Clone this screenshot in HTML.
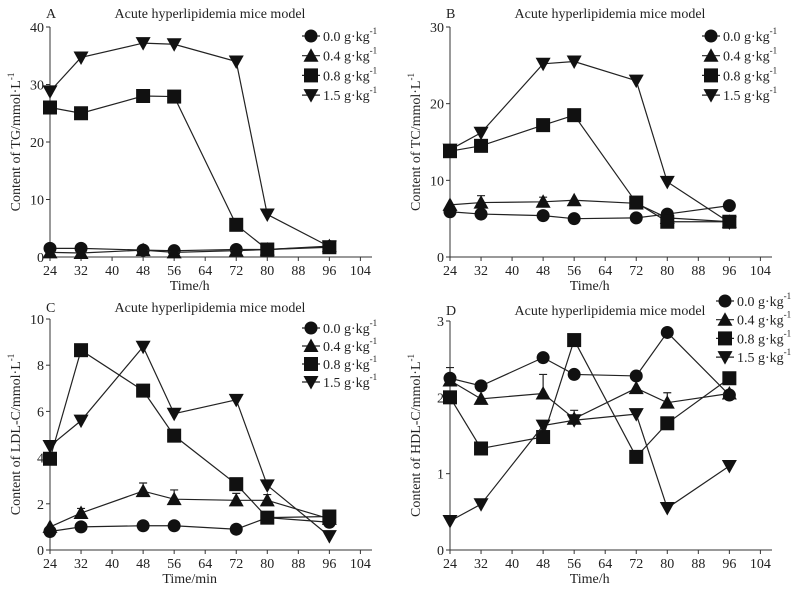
<!DOCTYPE html>
<html><head><meta charset="utf-8"><style>
body{margin:0;background:#fff}
svg{display:block;font-family:"Liberation Serif",serif;}
</style></head><body>
<svg id="c" width="805" height="592" viewBox="0 0 805 592" xmlns="http://www.w3.org/2000/svg"></svg>
<script>
const times=[24,32,48,56,72,80,96];
const xTicks=[24,32,40,48,56,64,72,80,88,96,104];
const seriesLabels=["0.0","0.4","0.8","1.5"];
const markers=["circle","triUp","square","triDown"];
// Panel A TG
const tgS0=[1.5,1.5,1.2,1.1,1.3,1.3,1.8];
const tgS1=[0.8,0.7,1.2,0.8,1.1,1.3,1.9];
const tgS2=[26,25,28,27.9,5.6,1.3,1.7];
const tgS3=[28.8,34.7,37.2,37.0,34.0,7.4,1.8];
const tgTicks=[0,10,20,30,40];
// Panel B TC
const tcS0=[5.9,5.6,5.4,5.0,5.1,5.6,6.7];
const tcS1=[6.8,7.1,7.2,7.4,7.0,5.1,4.6];
const tcS2=[13.8,14.5,17.2,18.5,7.1,4.6,4.6];
const tcS3=[14.0,16.2,25.2,25.5,23.0,9.8,4.5];
const tcErr1=[0,0.9,0.6,0,0,0,0];
const tcTicks=[0,10,20,30];
// Panel C LDL
const ldlS0=[0.8,1.0,1.05,1.05,0.9,1.4,1.2];
const ldlS1=[1.0,1.6,2.55,2.2,2.15,2.15,1.35];
const ldlS2=[3.95,8.65,6.9,4.95,2.85,1.4,1.45];
const ldlS3=[4.5,5.6,8.8,5.9,6.5,2.8,0.6];
const ldlErr1=[0,0.2,0.35,0.4,0.3,0.25,0];
const ldlTicks=[0,2,4,6,8,10];
// Panel D HDL
const hdlS0=[2.25,2.15,2.52,2.3,2.28,2.85,2.03];
const hdlS1=[2.22,1.98,2.05,1.72,2.12,1.93,2.05];
const hdlS2=[2.0,1.33,1.48,2.75,1.22,1.66,2.25];
const hdlS3=[0.38,0.6,1.63,1.7,1.78,0.55,1.1];
const hdlErr1=[0.17,0,0.25,0.11,0,0.13,0];
const hdlTicks=[0,1,2,3];

const NS="http://www.w3.org/2000/svg";
const svg=document.getElementById('c');
function mk(tag,attrs,parent){const e=document.createElementNS(NS,tag);for(const k in attrs)e.setAttribute(k,attrs[k]);(parent||svg).appendChild(e);return e;}
function marker(g,type,x,y){
  let e;
  if(type==="circle"){e=mk('circle',{cx:x,cy:y,r:6.5,fill:'#111'},g);}
  else if(type==="square"){e=mk('rect',{x:x-7,y:y-7,width:14,height:14,fill:'#111'},g);}
  else if(type==="triUp"){e=mk('polygon',{points:`${x},${y-7.5} ${x+7.5},${y+6} ${x-7.5},${y+6}`,fill:'#111'},g);}
  else {e=mk('polygon',{points:`${x-7.5},${y-6} ${x+7.5},${y-6} ${x},${y+7.5}`,fill:'#111'},g);}
  
  
}
function panel(p){
  const g=mk('g',{});
  
  
  const ymax=p.yTicks[p.yTicks.length-1];
  const X=v=>p.x0+(v-24)*3.88;
  const Y=v=>p.yb-(v/ymax)*(p.yb-p.yt);
  const ax=mk('path',{d:`M${p.x0},${p.yt} V${p.yb} H${p.x0+322}`,stroke:'#333','stroke-width':1,fill:'none'},g);
   
  p.yTicks.forEach(t=>{
    mk('line',{x1:p.x0-4,x2:p.x0,y1:Y(t),y2:Y(t),stroke:'#333'},g);
    const tx=mk('text',{x:p.x0-6,y:Y(t)+5,'text-anchor':'end','font-size':14,fill:'#222'},g);tx.textContent=t;
     
  });
  xTicks.forEach(t=>{
    mk('line',{x1:X(t),x2:X(t),y1:p.yb,y2:p.yb+4,stroke:'#333'},g);
    const tx=mk('text',{x:X(t),y:p.yb+18,'text-anchor':'middle','font-size':14,fill:'#222'},g);tx.textContent=t;
     
  });
  let t=mk('text',{x:X(60),y:p.yb+33,'text-anchor':'middle','font-size':14,fill:'#222'},g);t.textContent=p.xTitle;
   
  const cy=(p.yt+p.yb)/2;
  t=mk('text',{x:0,y:0,transform:`translate(${p.x0-30},${cy}) rotate(-90)`,'text-anchor':'middle','font-size':14,fill:'#222'},g);
  t.innerHTML=p.yTitle+'<tspan dy="-6" font-size="9">-1</tspan>';
   
  t=mk('text',{x:p.x0+160,y:p.titleY,'text-anchor':'middle','font-size':14,fill:'#222'},g);t.textContent="Acute hyperlipidemia mice model";
   
  t=mk('text',{x:p.x0-4,y:p.titleY,'font-size':14,fill:'#222'},g);t.textContent=p.letter;
   
  // error bars
  if(p.err){times.forEach((tm,i)=>{if(p.err[i]>0){const v=p.series[1][i];
    const e=mk('path',{d:`M${X(tm)},${Y(v)} V${Y(v+p.err[i])} M${X(tm)-4},${Y(v+p.err[i])} H${X(tm)+4}`,stroke:'#222','stroke-width':1.2,fill:'none'},g);
     }});}
  p.series.forEach((s,k)=>{
    const sg=mk('g',{},g);
    
    
    const ln=mk('polyline',{points:s.map((v,i)=>X(times[i])+','+Y(v)).join(' '),stroke:'#222','stroke-width':1.2,fill:'none'},sg);
     
    s.forEach((v,i)=>marker(sg,markers[k],X(times[i]),Y(v)));
  });
  // legend
  seriesLabels.forEach((lab,k)=>{
    const ly=p.legY+k*p.legStep;
    const lg=mk('g',{},g);
    
    
    mk('line',{x1:p.legX-9,x2:p.legX+9,y1:ly,y2:ly,stroke:'#222','stroke-width':1.2},lg);
    marker(lg,markers[k],p.legX,ly);
    const tx=mk('text',{x:p.legX+12,y:ly+5,'font-size':14,fill:'#222'},lg);
    tx.innerHTML=lab+' g·kg<tspan dy="-7" font-size="9">-1</tspan>';
  });
}
panel({letter:'A',x0:50,yt:27,yb:257,yTicks:tgTicks,series:[tgS0,tgS1,tgS2,tgS3],xTitle:'Time/h',yTitle:'Content of TG/mmol·L',titleY:18,legX:311,legY:36,legStep:19.7});
panel({letter:'B',x0:450,yt:27,yb:257,yTicks:tcTicks,series:[tcS0,tcS1,tcS2,tcS3],err:tcErr1,xTitle:'Time/h',yTitle:'Content of TC/mmol·L',titleY:18,legX:711,legY:36,legStep:19.7});
panel({letter:'C',x0:50,yt:319,yb:550,yTicks:ldlTicks,series:[ldlS0,ldlS1,ldlS2,ldlS3],err:ldlErr1,xTitle:'Time/min',yTitle:'Content of LDL-C/mmol·L',titleY:312,legX:311,legY:328,legStep:18});
panel({letter:'D',x0:450,yt:321,yb:550,yTicks:hdlTicks,series:[hdlS0,hdlS1,hdlS2,hdlS3],err:hdlErr1,xTitle:'Time/h',yTitle:'Content of HDL-C/mmol·L',titleY:315,legX:725,legY:301,legStep:18.7});
</script>
</body></html>
